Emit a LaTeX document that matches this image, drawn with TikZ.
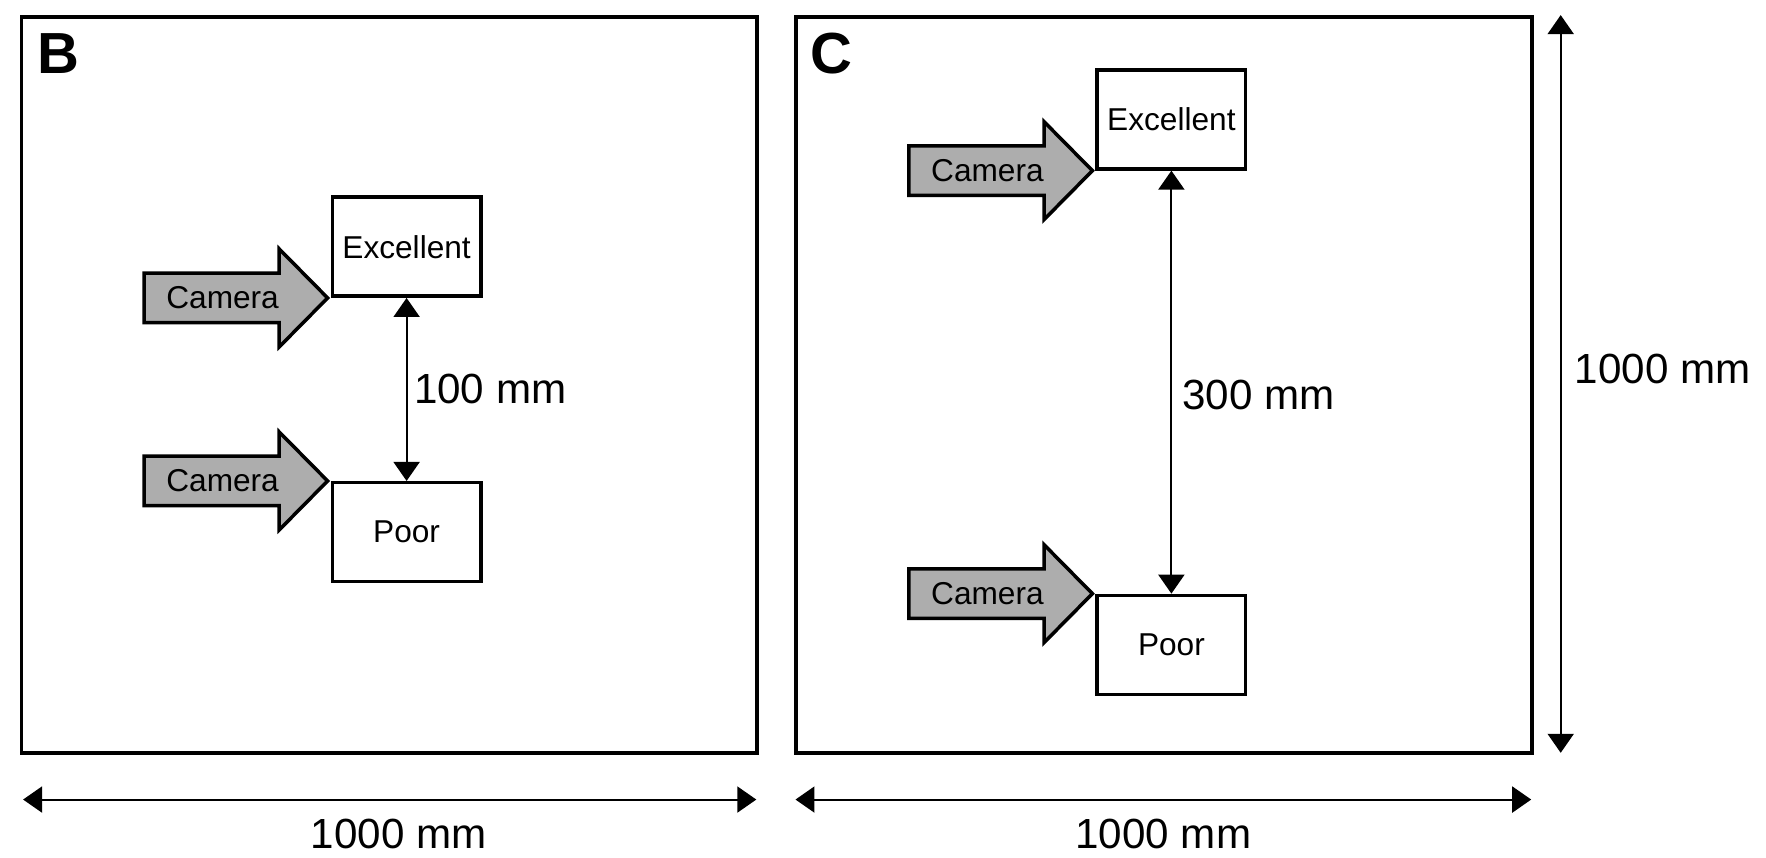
\documentclass[tikz,border=0pt]{standalone}
\usepackage{fontspec}
\setmainfont{Liberation Sans}
\setsansfont{Liberation Sans}
\usepackage{xcolor}
\definecolor{camgray}{HTML}{ADADAD}
\usetikzlibrary{arrows.meta, calc}
\tikzset{
  >={Triangle[length=3.8mm, width=5.2mm]},
  every node/.style={font=\sffamily},
  panel/.style={
    rectangle, draw=black, line width=2.2pt,
    minimum width=14.71cm, minimum height=14.73cm
  },
  spot/.style={
    rectangle, draw=black, fill=white, line width=2pt,
    minimum width=2.97cm, minimum height=1.98cm,
    font=\sffamily\fontsize{18}{20}\selectfont
  },
  camarrow/.style={draw=black, fill=camgray, line width=2pt, line join=miter},
  camtext/.style={font=\sffamily\fontsize{18}{20}\selectfont, inner sep=0pt},
  dimarrow/.style={<->, black, line width=1.1pt},
  dimlabel/.style={font=\sffamily\fontsize{24}{28}\selectfont, inner sep=0pt},
  panelletter/.style={font=\sffamily\bfseries\fontsize{33}{36}\selectfont, inner sep=0pt, anchor=north west}
}

\begin{document}
\begin{tikzpicture}[x=0.02cm, y=-0.02cm]
\useasboundingbox (0,0) rectangle (1766,858);

% Panels B and C (1000 mm x 1000 mm each)
\node[panel] (frB) at (389.2, 385.2) {};
\node[panel] (frC) at (1164.1, 385.2) {};
\node[panelletter] (labB) at ([shift={(0.36cm,-0.36cm)}]frB.north west) {B};
\node[panelletter] (labC) at ([shift={(0.31cm,-0.36cm)}]frC.north west) {C};

% Target spots
\node[spot] (exB) at (406.6, 246.7) {Excellent};
\node[spot] (poB) at (406.6, 532.2) {Poor};
\node[spot] (exC) at (1171.4, 119.4) {Excellent};
\node[spot] (poC) at (1171.4, 644.9) {Poor};

% Camera arrows, tip at the spot corner
\foreach \tip/\nm in {exB.south west/camB1, poB.north west/camB2, exC.south west/camC1, poC.north west/camC2} {
  \draw[camarrow] ([xshift=-0.06cm]\tip) -- ++(-48.4,-49) -- ++(0,24.25) -- ++(-135.2,0)
    -- ++(0,49.5) -- ++(135.2,0) -- ++(0,24.25) -- cycle;
  \node[camtext] (\nm) at ($(\tip)+(-108,0)$) {Camera};
}

% Spacing between spots
\draw[dimarrow] (exB.south) -- (poB.north)
  node[dimlabel, pos=0.5, anchor=west, xshift=0.13cm] {100 mm};
\draw[dimarrow] (exC.south) -- (poC.north)
  node[dimlabel, pos=0.53, anchor=west, xshift=0.2cm] {300 mm};

% Panel dimensions
\draw[dimarrow] ([shift={(0.07cm,-0.885cm)}]frB.south west) -- ([shift={(-0.05cm,-0.885cm)}]frB.south east)
  node[dimlabel, midway, yshift=-0.68cm, xshift=0.18cm] {1000 mm};
\draw[dimarrow] ([shift={(0.02cm,-0.885cm)}]frC.south west) -- ([shift={(-0.05cm,-0.885cm)}]frC.south east)
  node[dimlabel, midway, yshift=-0.68cm] {1000 mm};
\draw[dimarrow] ([xshift=0.54cm]frC.north east) -- ([xshift=0.54cm, yshift=0.05cm]frC.south east)
  node[dimlabel, pos=0.48, anchor=west, xshift=0.26cm] {1000 mm};

\end{tikzpicture}
\end{document}
